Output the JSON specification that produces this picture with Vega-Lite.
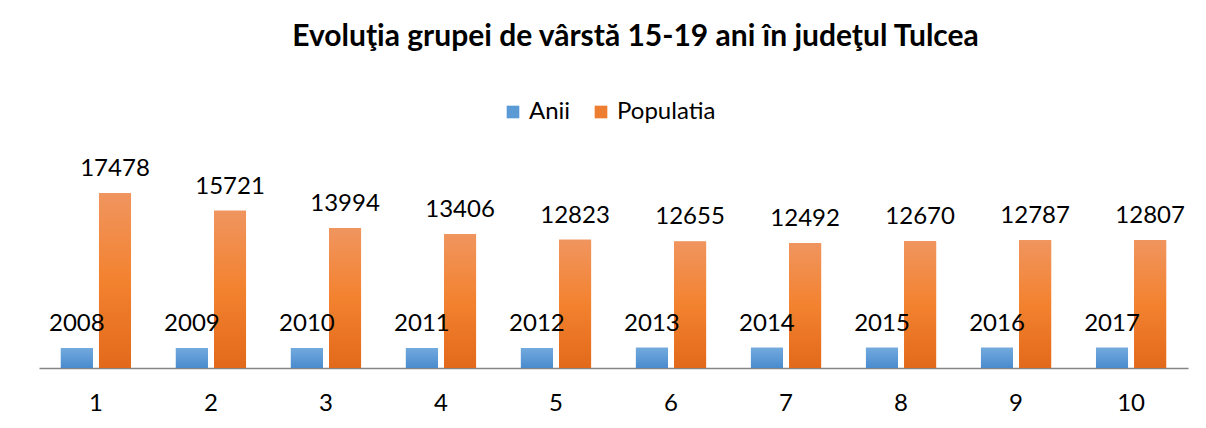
{
  "$schema": "https://vega.github.io/schema/vega-lite/v6.json",
  "autosize": "none",
  "width": 1149,
  "height": 200,
  "padding": {"left": 39, "top": 168, "right": 18, "bottom": 60},
  "background": "white",
  "title": {
    "text": "Evoluţia grupei de vârstă 15-19 ani în judeţul Tulcea",
    "font": "Lato",
    "fontSize": 30,
    "fontWeight": "bold",
    "color": "#000000",
    "anchor": "middle",
    "dx": 22,
    "offset": 48
  },
  "data": {
    "values": [
      {"cat": 1, "series": "Anii", "value": 2008},
      {"cat": 1, "series": "Populatia", "value": 17478},
      {"cat": 2, "series": "Anii", "value": 2009},
      {"cat": 2, "series": "Populatia", "value": 15721},
      {"cat": 3, "series": "Anii", "value": 2010},
      {"cat": 3, "series": "Populatia", "value": 13994},
      {"cat": 4, "series": "Anii", "value": 2011},
      {"cat": 4, "series": "Populatia", "value": 13406},
      {"cat": 5, "series": "Anii", "value": 2012},
      {"cat": 5, "series": "Populatia", "value": 12823},
      {"cat": 6, "series": "Anii", "value": 2013},
      {"cat": 6, "series": "Populatia", "value": 12655},
      {"cat": 7, "series": "Anii", "value": 2014},
      {"cat": 7, "series": "Populatia", "value": 12492},
      {"cat": 8, "series": "Anii", "value": 2015},
      {"cat": 8, "series": "Populatia", "value": 12670},
      {"cat": 9, "series": "Anii", "value": 2016},
      {"cat": 9, "series": "Populatia", "value": 12787},
      {"cat": 10, "series": "Anii", "value": 2017},
      {"cat": 10, "series": "Populatia", "value": 12807}
    ]
  },
  "encoding": {
    "x": {
      "field": "cat",
      "type": "ordinal",
      "scale": {"paddingInner": 0.39, "paddingOuter": 0.19},
      "axis": {
        "title": null,
        "labelAngle": 0,
        "ticks": false,
        "domainColor": "#868686",
        "domainWidth": 1.5,
        "labelFont": "Lato",
        "labelFontSize": 24,
        "labelColor": "#000000",
        "labelPadding": 23
      }
    },
    "xOffset": {
      "field": "series",
      "type": "nominal",
      "scale": {"paddingInner": 0.16, "paddingOuter": 0}
    },
    "y": {
      "field": "value",
      "type": "quantitative",
      "scale": {"domain": [0, 20000], "nice": false},
      "axis": null
    }
  },
  "layer": [
    {
      "mark": {"type": "bar"},
      "encoding": {
        "color": {
          "field": "series",
          "type": "nominal",
          "scale": {
            "domain": ["Anii", "Populatia"],
            "range": ["#5b9bd5", "#ed7d31"]
          },
          "legend": {
            "title": null,
            "orient": "none",
            "direction": "horizontal",
            "legendX": 462,
            "legendY": -68,
            "symbolType": "square",
            "symbolSize": 160,
            "symbolStrokeWidth": 0,
            "labelFont": "Lato",
            "labelFontSize": 24,
            "labelColor": "#000000",
            "columnPadding": 18,
            "labelOffset": 4
          }
        }
      }
    },
    {
      "transform": [{"filter": "datum.series === 'Anii'"}],
      "mark": {
        "type": "bar",
        "fill": {"gradient": "linear", "x1": 0, "y1": 0, "x2": 0, "y2": 1, "stops": [{"offset": 0, "color": "#72aade"}, {"offset": 1, "color": "#4a8bce"}]}
      }
    },
    {
      "transform": [{"filter": "datum.series === 'Populatia'"}],
      "mark": {
        "type": "bar",
        "fill": {"gradient": "linear", "x1": 0, "y1": 0, "x2": 0, "y2": 1, "stops": [{"offset": 0, "color": "#f0955f"}, {"offset": 0.5, "color": "#f3822f"}, {"offset": 1, "color": "#e2691b"}]}
      }
    },
    {
      "mark": {"type": "text", "baseline": "bottom", "dy": -12, "font": "Lato", "fontSize": 24, "fill": "#000000"},
      "encoding": {
        "text": {"field": "value", "type": "quantitative", "format": "d"}
      }
    }
  ],
  "config": {
    "view": {"stroke": null},
    "axis": {"grid": false}
  }
}
